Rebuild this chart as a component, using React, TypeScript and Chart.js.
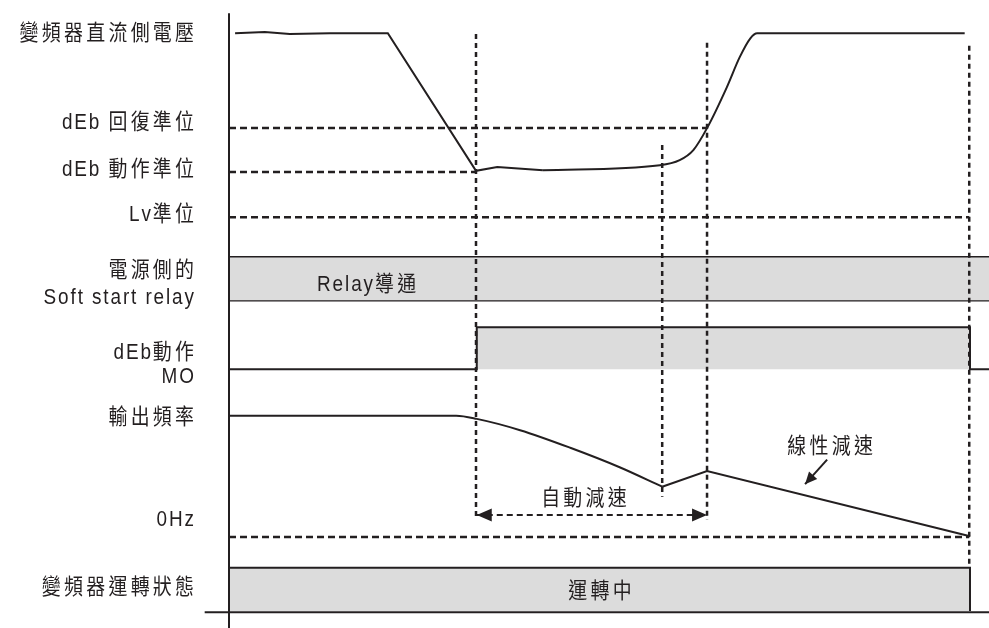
import React, { useEffect, useRef } from "react";
import { Chart, registerables } from "chart.js";

Chart.register(...registerables);

const INK = "#231f20";
const BOX = "#dcdcdc";
const LAT_FONT = '22px "Liberation Sans", Arial, sans-serif';
const CJK_FONT = '22px "Noto Sans CJK TC", "Noto Sans CJK SC", sans-serif';
const TEXT_SX = 0.86;

// ---- data (x: time units 0..100, y: level units 0..100) ----
const voltageX1 = [0.8, 4.7, 8.0, 13.3, 20.9, 32.5, 35.3, 41.3];
const voltageY1 = [94.7, 94.9, 94.6, 94.7, 94.7, 72.8, 73.4, 72.9];
const voltageX2 = [41.3, 56.7, 59.3, 61.1, 62.9, 65.5, 67.2, 68.6, 69.5, 96.8];
const voltageY2 = [72.9, 73.7, 74.5, 76.1, 79.6, 86.1, 90.9, 93.9, 94.7, 94.7];

const freqX1 = [0, 29.9, 32.6, 38.3, 44.9, 51.4, 57.0];
const freqY1 = [33.8, 33.8, 33.3, 31.5, 28.7, 25.6, 22.5];
const freqX2 = [57.0, 62.9, 97.5];
const freqY2 = [22.5, 25.0, 14.6];

const recoveryLevel = 79.6;
const actionLevel = 72.6;
const lvLevel = 65.4;
const zeroHzLevel = 14.5;

const tDebStart = 32.5;
const tFreqMin = 57.0;
const tRecover = 62.9;
const tStop = 97.4;

const relayTop = 59.1;
const relayBottom = 52.2;
const moLow = 41.2;
const moHigh = 47.9;
const moOn = 32.6;
const moOff = 97.5;
const runTop = 9.6;
const runBottom = 2.7;
const runOff = 97.5;

const axisTop = 97.9;
const baseY = 2.5;
const baseLeft = -3.2;

const vLineX = [tDebStart, tFreqMin, tRecover, tStop];
const vLineTop = [94.6, 76.9, 93.2, 92.7];
const vLineBottom = [17.2, 20.9, 17.2, 9.6];

const autoArrowY = 18.0;
const autoArrowX = [32.6, 62.9];
const linArrowFrom = [78.7, 26.8];
const linArrowTo = [75.8, 22.9];

const leftLabels = [
  "變頻器直流側電壓",
  "dEb 回復準位",
  "dEb 動作準位",
  "Lv準位",
  "電源側的",
  "Soft start relay",
  "dEb動作",
  "MO",
  "輸出頻率",
  "0Hz",
  "變頻器運轉狀態",
];
const leftLabelY = [94.9, 80.7, 73.2, 66.1, 57.2, 52.9, 44.1, 40.3, 33.8, 17.5, 6.7];

const innerLabels = ["Relay導通", "運轉中", "自動減速", "線性減速"];
const innerLabelX = [18.1, 48.8, 46.7, 79.1];
const innerLabelY = [54.9, 6.1, 20.9, 29.1];

const pts = (xs: number[], ys: number[]) => xs.map((x, i) => ({ x, y: ys[i] }));

function line(data: any[], extra: any = {}) {
  return {
    type: "line",
    data,
    borderColor: INK,
    borderWidth: 2,
    pointRadius: 0,
    fill: false,
    tension: 0,
    clip: false,
    ...extra,
  };
}

const CJK_RE = /[\u2E80-\u9FFF\uF900-\uFAFF]+|[^\u2E80-\u9FFF\uF900-\uFAFF]+/g;
const CJK_TEST = /[\u2E80-\u9FFF\uF900-\uFAFF]/;
// spacing in final pixels
const SP_CJK = 3.3;
const SP_LAT = 1.9;

function runStyle(ctx: any, r: string) {
  const cjk = CJK_TEST.test(r);
  const sp = (cjk ? SP_CJK : SP_LAT) / TEXT_SX;
  ctx.font = cjk ? CJK_FONT : LAT_FONT;
  ctx.letterSpacing = sp + "px";
  return sp;
}

function drawText(ctx: any, text: string, x: number, yCenter: number, align: "left" | "right" | "center") {
  const runs = text.match(CJK_RE) || [text];
  const widths = runs.map((r) => {
    runStyle(ctx, r);
    return ctx.measureText(r).width;
  });
  const lastSp = runStyle(ctx, runs[runs.length - 1]);
  const total = widths.reduce((a, b) => a + b, 0) - lastSp;
  ctx.save();
  ctx.translate(x, yCenter + 8);
  ctx.scale(TEXT_SX, 1);
  ctx.textAlign = "left";
  ctx.textBaseline = "alphabetic";
  let cx = align === "left" ? 0 : align === "right" ? -total : -total / 2;
  runs.forEach((r, i) => {
    runStyle(ctx, r);
    ctx.fillText(r, cx, 0);
    cx += widths[i];
  });
  ctx.restore();
}

const annotPlugin = {
  id: "annot",
  afterDatasetsDraw(chart: any) {
    const { ctx } = chart;
    const xs = chart.scales.x;
    const ys = chart.scales.y;
    ctx.save();
    ctx.fillStyle = INK;
    const axisPx = xs.getPixelForValue(0);
    leftLabels.forEach((t, i) => {
      drawText(ctx, t, axisPx - 35, ys.getPixelForValue(leftLabelY[i]), "right");
    });
    innerLabels.forEach((t, i) => {
      drawText(ctx, t, xs.getPixelForValue(innerLabelX[i]), ys.getPixelForValue(innerLabelY[i]), "center");
    });
    ctx.letterSpacing = "0px";

    const head = (tx: number, ty: number, fx: number, fy: number, len: number, half: number) => {
      const dx = tx - fx;
      const dy = ty - fy;
      const d = Math.hypot(dx, dy) || 1;
      const ux = dx / d;
      const uy = dy / d;
      const bx = tx - ux * len;
      const by = ty - uy * len;
      ctx.beginPath();
      ctx.moveTo(tx, ty);
      ctx.lineTo(bx - uy * half, by + ux * half);
      ctx.lineTo(bx + uy * half, by - ux * half);
      ctx.closePath();
      ctx.fill();
    };
    const ay = ys.getPixelForValue(autoArrowY);
    const a0 = xs.getPixelForValue(autoArrowX[0]);
    const a1 = xs.getPixelForValue(autoArrowX[1]);
    head(a0, ay, a1, ay, 15, 6.5);
    head(a1, ay, a0, ay, 15, 6.5);
    head(
      xs.getPixelForValue(linArrowTo[0]),
      ys.getPixelForValue(linArrowTo[1]),
      xs.getPixelForValue(linArrowFrom[0]),
      ys.getPixelForValue(linArrowFrom[1]),
      12,
      5.5
    );
    ctx.restore();
  },
};

export default function App() {
  const ref = useRef<HTMLCanvasElement | null>(null);
  useEffect(() => {
    if (!ref.current) return;
    const dash = [7, 4];
    const dot = [5, 4];
    const datasets: any[] = [
      // curves (on top)
      line(pts(voltageX1, voltageY1)),
      line(pts(voltageX2, voltageY2), { cubicInterpolationMode: "monotone" }),
      line(pts(freqX1, freqY1), { cubicInterpolationMode: "monotone" }),
      line(pts(freqX2, freqY2)),
      // axis & base
      line(pts([0, 0], [axisTop, 0])),
      line(pts([baseLeft, 100], [baseY, baseY])),
      // arrows
      line(pts(autoArrowX, [autoArrowY, autoArrowY]), { borderDash: [6, 4], borderWidth: 2 }),
      line(pts([linArrowFrom[0], linArrowTo[0]], [linArrowFrom[1], linArrowTo[1]]), { borderWidth: 2 }),
      // dashed levels
      line(pts([0, tRecover], [recoveryLevel, recoveryLevel]), { borderDash: dash, borderWidth: 2.5 }),
      line(pts([0, tDebStart], [actionLevel, actionLevel]), { borderDash: dash, borderWidth: 2.5 }),
      line(pts([0, tStop], [lvLevel, lvLevel]), { borderDash: dash, borderWidth: 2.5 }),
      line(pts([0, tStop], [zeroHzLevel, zeroHzLevel]), { borderDash: dash, borderWidth: 2.5 }),
      // vertical dotted
      ...vLineX.map((vx, i) =>
        line(pts([vx, vx], [vLineTop[i], vLineBottom[i]]), { borderDash: dot, borderWidth: 2.5 })
      ),
      // boxes
      line(pts([0, 100], [relayTop, relayTop]), {
        fill: { value: relayBottom },
        backgroundColor: BOX,
        borderWidth: 1.5,
      }),
      line(pts([0, 100], [relayBottom, relayBottom]), { borderWidth: 2.5 }),
      line(
        pts([0, moOn, moOn, moOff, moOff, 100], [moLow, moLow, moHigh, moHigh, moLow, moLow]),
        { fill: { value: moLow }, backgroundColor: BOX, borderWidth: 2 }
      ),
      line(pts([0, runOff, runOff], [runTop, runTop, runBottom]), {
        fill: { value: runBottom },
        backgroundColor: BOX,
        borderWidth: 2,
      }),
    ];
    const chart = new Chart(ref.current, {
      type: "line",
      data: { datasets },
      options: {
        animation: false,
        responsive: false,
        layout: { padding: { left: 229, right: 0, top: 0, bottom: 0 } },
        plugins: { legend: { display: false }, tooltip: { enabled: false } },
        scales: {
          x: { type: "linear", min: 0, max: 100, display: false },
          y: { type: "linear", min: 0, max: 100, display: false },
        },
      },
      plugins: [annotPlugin],
    } as any);
    return () => chart.destroy();
  }, []);
  return (
    <div style={{ position: "absolute", left: 0, top: 0, width: 989, height: 628, background: "#fff" }}>
      <canvas ref={ref} width={989} height={628} />
    </div>
  );
}
